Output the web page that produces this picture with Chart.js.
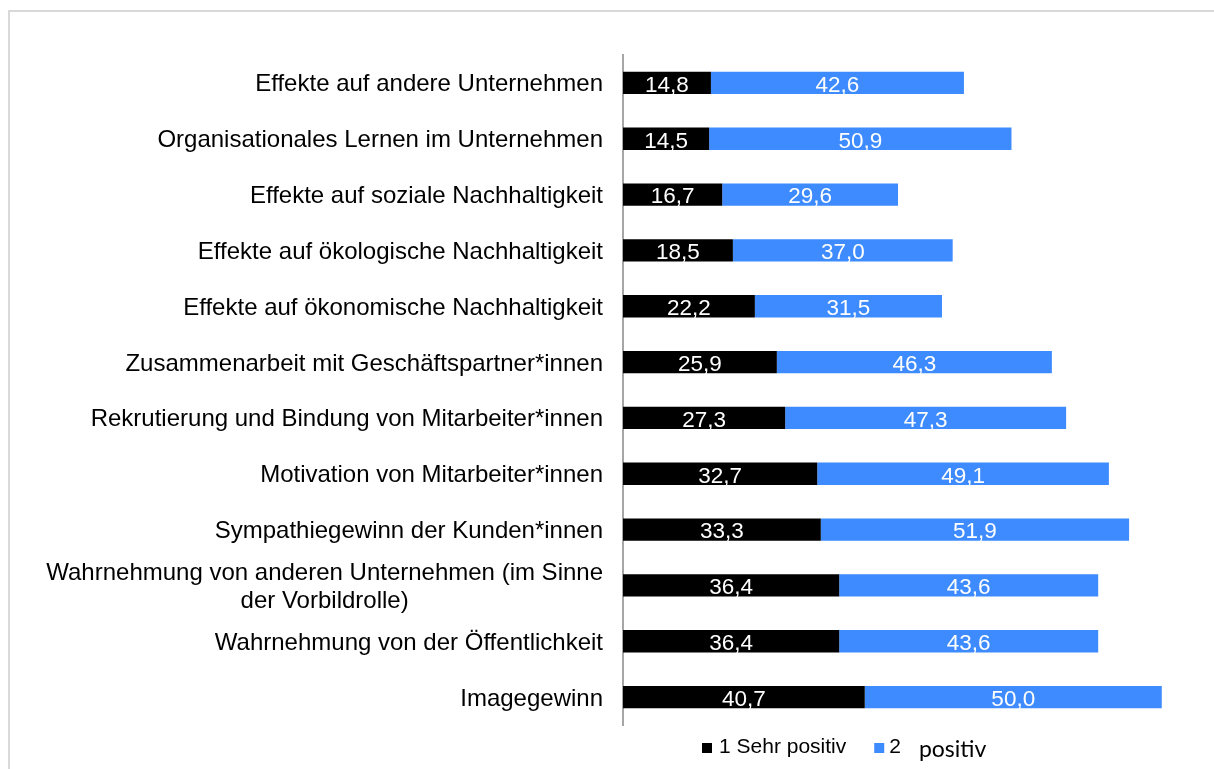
<!DOCTYPE html>
<html lang="de">
<head>
<meta charset="utf-8">
<title>Effekte</title>
<script src="https://cdn.jsdelivr.net/npm/chart.js@4/dist/chart.umd.min.js"></script>
<style>
  html, body { margin:0; padding:0; background:#fff; overflow:hidden; }
  .frame { position:absolute; left:8px; top:10px; width:1400px; height:900px; border-top:2px solid #d9d9d9; border-left:2px solid #d9d9d9; }
  .wrap { position:absolute; left:0; top:0; width:1230px; height:769px; }
</style>
</head>
<body>
<div class="frame"></div>
<div class="wrap"><canvas id="chart"></canvas></div>
<script>
const $ = id => document.getElementById(id);

const categories = [
  'Effekte auf andere Unternehmen',
  'Organisationales Lernen im Unternehmen',
  'Effekte auf soziale Nachhaltigkeit',
  'Effekte auf ökologische Nachhaltigkeit',
  'Effekte auf ökonomische Nachhaltigkeit',
  'Zusammenarbeit mit Geschäftspartner*innen',
  'Rekrutierung und Bindung von Mitarbeiter*innen',
  'Motivation von Mitarbeiter*innen',
  'Sympathiegewinn der Kunden*innen',
  ['Wahrnehmung von anderen Unternehmen (im Sinne', 'der Vorbildrolle)'],
  'Wahrnehmung von der Öffentlichkeit',
  'Imagegewinn'
];
const sehrPositiv = [14.8, 14.5, 16.7, 18.5, 22.2, 25.9, 27.3, 32.7, 33.3, 36.4, 36.4, 40.7];
const positiv = [42.6, 50.9, 29.6, 37.0, 31.5, 46.3, 47.3, 49.1, 51.9, 43.6, 43.6, 50.0];
const seriesNames = ['1 Sehr positiv', '2 positiv'];

const ARIAL = '"Liberation Sans", Arial, sans-serif';
const fmt = v => v.toFixed(1).replace('.', ',');

// Category labels: right-aligned block, extra lines centred inside it (like Excel wraps them).
const categoryLabels = {
  id: 'categoryLabels',
  afterDraw(chart) {
    const {ctx, chartArea, scales:{y}} = chart;
    ctx.save();
    ctx.font = `24px ${ARIAL}`;
    ctx.fillStyle = '#000';
    ctx.textAlign = 'center';
    ctx.textBaseline = 'alphabetic';
    const right = chartArea.left - 20;
    categories.forEach((cat, i) => {
      const lines = Array.isArray(cat) ? cat : [cat];
      const yc = y.getPixelForValue(i);
      const maxW = Math.max(...lines.map(l => ctx.measureText(l).width));
      lines.forEach((line, j) => {
        const base = yc + 8.5 + (j - (lines.length - 1) / 2) * 28;
        ctx.fillText(line, right - maxW / 2, base);
      });
    });
    ctx.restore();
  }
};

const valueLabels = {
  id: 'valueLabels',
  afterDatasetsDraw(chart) {
    const {ctx} = chart;
    ctx.save();
    ctx.font = `22.5px ${ARIAL}`;
    ctx.fillStyle = '#fff';
    ctx.textAlign = 'center';
    ctx.textBaseline = 'alphabetic';
    chart.data.datasets.forEach((ds, di) => {
      chart.getDatasetMeta(di).data.forEach((bar, i) => {
        ctx.fillText(fmt(ds.data[i]), (bar.x + bar.base) / 2, bar.y + 8.8);
      });
    });
    ctx.restore();
  }
};

// Legend drawn by hand: the second entry mixes two fonts in the original.
const legendPlugin = {
  id: 'mixedLegend',
  afterDraw(chart) {
    const {ctx} = chart;
    const ds = chart.data.datasets;
    ctx.save();
    ctx.textBaseline = 'alphabetic';
    ctx.textAlign = 'left';
    let x = 702;
    const boxY = 743;

    ctx.fillStyle = ds[0].backgroundColor;
    ctx.fillRect(x, boxY, 10, 10);
    x += 17;
    ctx.fillStyle = '#000';
    ctx.font = `21px ${ARIAL}`;
    ctx.fillText(ds[0].label, x, 753);
    x += ctx.measureText(ds[0].label).width + 28;

    ctx.fillStyle = ds[1].backgroundColor;
    ctx.fillRect(x, boxY, 10, 10);
    x += 15;
    const [num, ...rest] = ds[1].label.split(' ');
    ctx.fillStyle = '#000';
    ctx.fillText(num, x, 753);
    x += ctx.measureText(num).width + 18;
    ctx.font = '23px Lato, "Open Sans", sans-serif';
    ctx.fillText(rest.join(' '), x, 757);
    ctx.restore();
  }
};

Chart.defaults.font.family = ARIAL;

new Chart($('chart'), {
  type: 'bar',
  data: {
    labels: categories,
    datasets: [
      {label: seriesNames[0], data: sehrPositiv, backgroundColor: '#000000'},
      {label: seriesNames[1], data: positiv, backgroundColor: '#3d8bff'}
    ]
  },
  options: {
    indexAxis: 'y',
    responsive: true,
    maintainAspectRatio: false,
    animation: false,
    barPercentage: 0.4,
    categoryPercentage: 1.0,
    layout: {padding: {top: 55, bottom: 44, left: 0, right: 13}},
    plugins: {legend: {display: false}, tooltip: {enabled: false}},
    scales: {
      x: {stacked: true, min: 0, max: 100, display: false},
      y: {
        stacked: true,
        grid: {display: false, drawTicks: false},
        border: {display: true, color: '#a6a6a6', width: 2},
        ticks: {display: false},
        afterFit: scale => { scale.width = 623; }
      }
    }
  },
  plugins: [categoryLabels, valueLabels, legendPlugin]
});
</script>
</body>
</html>
